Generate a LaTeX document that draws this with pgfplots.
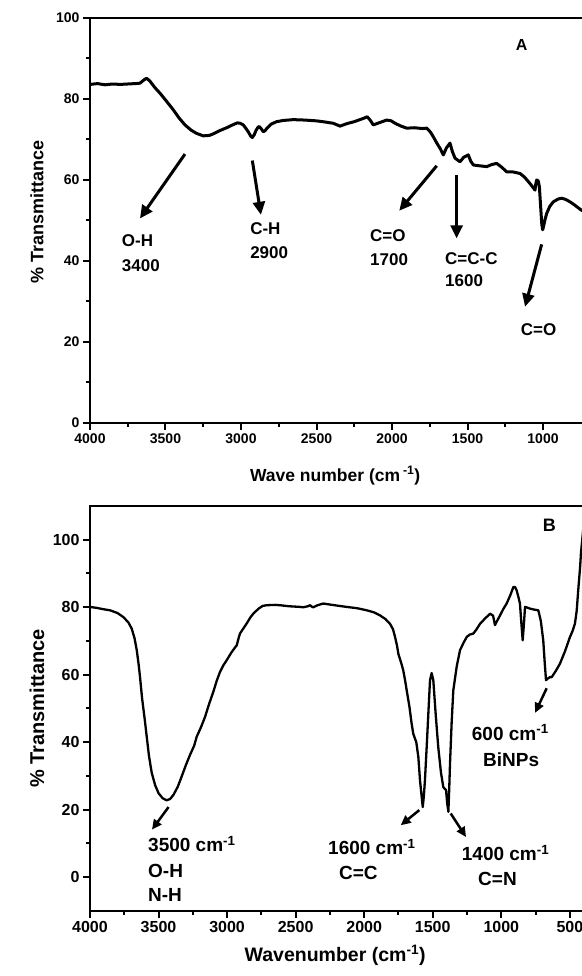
\documentclass[border=0pt]{standalone}
\usepackage{fontspec}
\setmainfont{Liberation Sans}
\usepackage{pgfplots}
\usepackage{pgfplotstable}
\pgfplotsset{compat=1.18}
\usetikzlibrary{arrows.meta}

% spectrum A (wavenumber, % transmittance)
\pgfplotstableread{
w T
4000 83.6
3950 83.8
3900 83.5
3850 83.7
3800 83.6
3750 83.7
3700 83.8
3669 83.9
3640 84.8
3625 85.1
3605 84.5
3570 82.8
3536 81.4
3490 79.3
3448 77.3
3410 75.3
3371 73.6
3330 72.3
3294 71.5
3250 70.9
3210 71.0
3183 71.4
3140 72.2
3095 72.9
3050 73.7
3024 74.1
3005 74.0
2985 73.6
2965 72.6
2952 71.9
2935 70.8
2925 70.5
2912 71.2
2901 72.2
2888 73.0
2879 73.2
2865 72.6
2852 71.9
2840 72.2
2830 72.7
2800 73.8
2764 74.4
2720 74.7
2654 74.9
2580 74.8
2500 74.6
2440 74.3
2389 74.0
2344 73.3
2300 73.9
2250 74.4
2190 75.2
2164 75.6
2145 74.8
2124 73.6
2080 74.2
2035 74.8
2005 74.6
1980 74.0
1940 73.3
1903 72.8
1850 72.9
1800 72.7
1770 72.8
1745 71.8
1727 70.7
1700 68.9
1680 67.7
1660 66.2
1640 67.9
1616 69.1
1600 67.0
1583 65.4
1550 64.5
1525 65.6
1495 66.2
1478 64.6
1461 63.7
1420 63.5
1373 63.3
1340 63.8
1307 64.1
1275 63.2
1240 62.0
1200 62.0
1152 61.6
1125 60.8
1097 59.6
1075 58.6
1053 57.5
1048 59.0
1042 60.0
1032 59.8
1024 58.3
1015 53.0
1008 49.0
1002 47.7
995 48.8
985 50.5
975 51.8
955 53.5
932 54.6
900 55.3
876 55.5
850 55.2
821 54.6
790 53.8
748 52.6
720 52.0
}\specA

% spectrum B
\pgfplotstableread{
w T
4000 80.1
3950 79.8
3900 79.4
3854 79.1
3800 78.3
3757 77.1
3720 75.5
3696 73.7
3675 70.8
3659 67.3
3645 63.0
3635 59.3
3620 53.0
3600 46.5
3586 41.6
3570 36.0
3550 31.0
3525 27.3
3500 24.9
3470 23.4
3441 22.8
3415 23.2
3390 24.5
3360 26.8
3330 30.0
3300 33.3
3270 36.3
3240 39.0
3222 41.6
3190 44.5
3161 47.5
3130 51.5
3100 55.0
3075 58.3
3052 60.8
3030 62.6
3003 64.3
2970 66.5
2940 68.2
2930 68.7
2915 71.0
2906 72.2
2880 73.8
2857 75.2
2830 77.0
2809 78.1
2770 79.6
2740 80.4
2711 80.6
2650 80.7
2614 80.6
2550 80.3
2468 80.1
2444 80.0
2410 80.3
2395 80.6
2380 80.1
2371 80.0
2340 80.6
2298 81.1
2250 80.8
2200 80.5
2128 80.1
2050 79.7
1982 79.1
1930 78.5
1885 77.6
1845 76.5
1812 75.1
1790 73.5
1775 71.2
1760 68.5
1751 66.2
1730 63.5
1715 61.3
1702 58.4
1690 55.4
1670 50.5
1654 45.5
1642 42.5
1620 40.0
1605 35.6
1593 28.7
1573 20.8
1565 24.0
1557 28.7
1545 38.0
1532 48.6
1520 58.4
1508 60.5
1496 58.4
1478 48.0
1460 38.6
1440 31.0
1423 26.7
1403 25.8
1395 22.0
1386 19.4
1380 26.0
1374 33.8
1362 46.0
1350 55.4
1325 62.5
1301 67.3
1275 69.5
1252 71.2
1230 71.9
1204 72.2
1180 73.5
1155 75.1
1120 76.6
1082 78.1
1060 77.5
1046 74.7
1030 76.0
1009 77.6
985 79.5
961 81.1
935 83.5
912 86.0
900 86.0
888 85.0
875 83.0
864 81.1
855 76.0
844 70.2
835 75.0
827 80.1
810 79.9
791 79.6
760 79.3
730 79.1
712 76.0
694 70.2
684 64.0
674 58.4
660 58.9
645 59.3
632 59.3
600 61.3
572 63.3
535 67.0
499 71.2
480 73.0
463 75.1
450 79.0
439 85.0
425 92.0
419 96.0
405 102.0
395 107.0
}\specB

\pgfplotsset{
  irplot/.style={
    scale only axis,
    anchor=south west,
    x dir=reverse,
    axis line style={line width=2.5pt},
    every tick/.style={line width=2pt, black},
    tick align=outside,
    xtick pos=left, ytick pos=left,
    major tick length=7pt, minor tick length=4pt,
    minor x tick num=1, minor y tick num=1,
    /pgf/number format/1000 sep={},
    /pgf/number format/assume math mode=true,
    ylabel={\% Transmittance},
  },
}

\begin{document}
\begin{tikzpicture}
\useasboundingbox (0pt,0pt) rectangle (581pt,976pt);

% ---------- A ----------
\begin{axis}[irplot,
  at={(90pt,553pt)}, width=495.3pt, height=405pt,
  xmin=720, xmax=4000, ymin=0, ymax=100,
  xtick={1000,1500,...,4000}, ytick={0,20,...,100},
  tick label style={font=\bfseries\fontsize{14}{14}\selectfont},
  xlabel={Wave number (cm\,\textsuperscript{-1})},
  xlabel style={font=\bfseries\fontsize{17.5}{18}\selectfont, at={(axis description cs:0.495,-0.13)}, anchor=center},
  ylabel style={font=\bfseries\fontsize{18}{18}\selectfont, at={(axis description cs:-0.107,0.52)}, anchor=center},
]
\addplot[black, line width=3pt, line join=round] table[x=w, y=T] {\specA};

\begin{scope}[line width=3pt, -{Triangle[length=13pt,width=12pt]}]
\draw (axis cs:3371,66.4) -- (axis cs:3669,50.5);
\draw (axis cs:2925,64.8) -- (axis cs:2868,51.4);
\draw (axis cs:1704,63.5) -- (axis cs:1952,52.4);
\draw (axis cs:1572,61.2) -- (axis cs:1572,45.6);
\draw (axis cs:1009,44.1) -- (axis cs:1119,28.7);
\end{scope}
\begin{scope}[every node/.style={anchor=base west, inner sep=0pt, font=\bfseries\fontsize{17}{17}\selectfont}]
\node at (axis cs:3790,43.7) {O-H};
\node at (axis cs:3790,37.5) {3400};
\node at (axis cs:2940,46.6) {C-H};
\node at (axis cs:2940,40.7) {2900};
\node at (axis cs:2146,44.9) {C=O};
\node at (axis cs:2146,39.0) {1700};
\node at (axis cs:1649,39.2) {C=C-C};
\node at (axis cs:1649,33.6) {1600};
\node at (axis cs:1148,21.7) {C=O};
\end{scope}
\node[anchor=base, inner sep=0pt, font=\bfseries\fontsize{16}{16}\selectfont] at (axis cs:1141,91.9) {A};
\end{axis}

% ---------- B ----------
\begin{axis}[irplot,
  at={(90pt,65pt)}, width=496.3pt, height=405pt,
  xmin=380, xmax=4000, ymin=-10, ymax=110,
  xtick={500,1000,...,4000}, ytick={0,20,...,100},
  tick label style={font=\bfseries\fontsize{16}{16}\selectfont},
  xlabel={Wavenumber (cm\textsuperscript{-1})},
  xlabel style={font=\bfseries\fontsize{19.5}{20}\selectfont, at={(axis description cs:0.494,-0.109)}, anchor=center},
  ylabel style={font=\bfseries\fontsize{20}{20}\selectfont, at={(axis description cs:-0.107,0.5)}, anchor=center},
]
\addplot[black, line width=2.3pt, line join=round] table[x=w, y=T] {\specB};

\begin{scope}[line width=2.5pt, -{Triangle[length=10pt,width=9pt]}]
\draw (axis cs:3427,20.8) -- (axis cs:3548,14.1);
\draw (axis cs:1598,19.9) -- (axis cs:1734,15.4);
\draw (axis cs:1369,18.9) -- (axis cs:1257,11.9);
\draw (axis cs:669,56.0) -- (axis cs:754,48.7);
\end{scope}
\begin{scope}[every node/.style={anchor=base west, inner sep=0pt, font=\bfseries\fontsize{19}{19}\selectfont}]
\node at (axis cs:3577,7.5) {3500 cm\textsuperscript{-1}};
\node at (axis cs:3577,0.06) {O-H};
\node at (axis cs:3577,-7.3) {N-H};
\node at (axis cs:2264,6.6) {1600 cm\textsuperscript{-1}};
\node at (axis cs:2184,-0.8) {C=C};
\node at (axis cs:1289,5.0) {1400 cm\textsuperscript{-1}};
\node at (axis cs:1170,-2.4) {C=N};
\node at (axis cs:1216,40.6) {600 cm\textsuperscript{-1}};
\node at (axis cs:1134,32.9) {BiNPs};
\end{scope}
\node[anchor=base, inner sep=0pt, font=\bfseries\fontsize{18}{18}\selectfont] at (axis cs:650,102.4) {B};
\end{axis}
\end{tikzpicture}
\end{document}
